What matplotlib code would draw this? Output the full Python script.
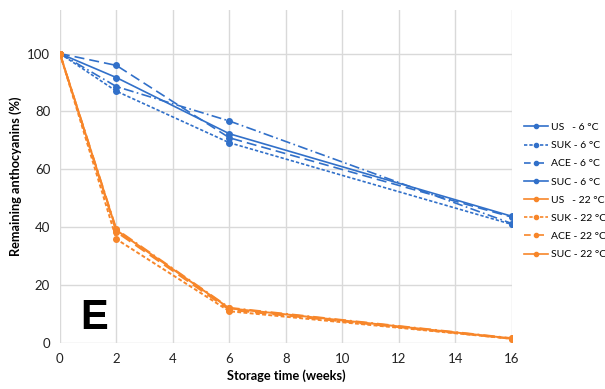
import matplotlib
matplotlib.use("Agg")
import matplotlib.pyplot as plt
from matplotlib.lines import Line2D

plt.rcParams['font.family'] = ['Lato', 'DejaVu Sans']

weeks = [0, 2, 6, 16]

# 6 °C series
us_6 = [100, 91.7, 72.3, 43.8]
suk_6 = [100, 87.0, 69.2, 41.0]
ace_6 = [100, 95.9, 70.9, 43.5]
suc_6 = [100, 88.6, 76.7, 41.3]

# 22 °C series
us_22 = [100, 39.0, 12.0, 1.6]
suk_22 = [100, 35.9, 11.0, 1.5]
ace_22 = [100, 38.4, 11.5, 1.5]
suc_22 = [100, 39.3, 12.2, 1.7]

labels = ["US   - 6 °C", "SUK - 6 °C", "ACE - 6 °C", "SUC - 6 °C",
          "US   - 22 °C", "SUK - 22 °C", "ACE - 22 °C", "SUC - 22 °C"]

blue = '#3170C9'
orange = '#F7862A'

fig = plt.figure(figsize=(6.05, 3.89), dpi=100)
ax = fig.add_axes([0.099, 0.118, 0.747, 0.856])

styles_plot = ['-', (0, (2, 1.2)), (0, (6, 3)), (0, (6, 2, 1, 2))]
styles_leg = ['-', (0, (2, 1.2)), (0, (4, 4)), '-']

for vals, ls in zip([us_6, suk_6, ace_6, suc_6], styles_plot):
    ax.plot(weeks, vals, color=blue, linestyle=ls, linewidth=1.2,
            marker='o', markersize=4)
for vals, ls in zip([us_22, suk_22, ace_22, suc_22], styles_plot):
    ax.plot(weeks, vals, color=orange, linestyle=ls, linewidth=1.4,
            marker='o', markersize=4)

ax.set_xlim(0, 16)
ax.set_ylim(0, 115)
ax.set_xticks(range(0, 17, 2))
ax.set_yticks(range(0, 101, 20))
ax.grid(True, color='#D9D9D9', linewidth=1)
ax.set_axisbelow(True)
for s in ax.spines.values():
    s.set_visible(False)
ax.tick_params(length=0, labelsize=9.5, colors='#222222', pad=7)
ax.set_xlabel("Storage time (weeks)", fontsize=9.2, fontweight='bold', labelpad=3)
ax.set_ylabel("Remaining anthocyanins (%)", fontsize=9.2, fontweight='bold', labelpad=4)

ax.text(1.2, 8.5, "E", fontsize=30, fontweight='bold', family='Liberation Sans',
        ha='center', va='center', color='black')

handles = []
for i, lab in enumerate(labels):
    c = blue if i < 4 else orange
    handles.append(Line2D([0], [0], color=c, linestyle=styles_leg[i % 4],
                          linewidth=1.2, marker='o', markersize=3))
fig.legend(handles, labels, loc='center left', bbox_to_anchor=(0.866, 0.509),
           frameon=False, fontsize=7.5, handlelength=2.3, handletextpad=0.3,
           labelspacing=0.85, borderaxespad=0, borderpad=0)

fig.savefig("out.png", dpi=100)
